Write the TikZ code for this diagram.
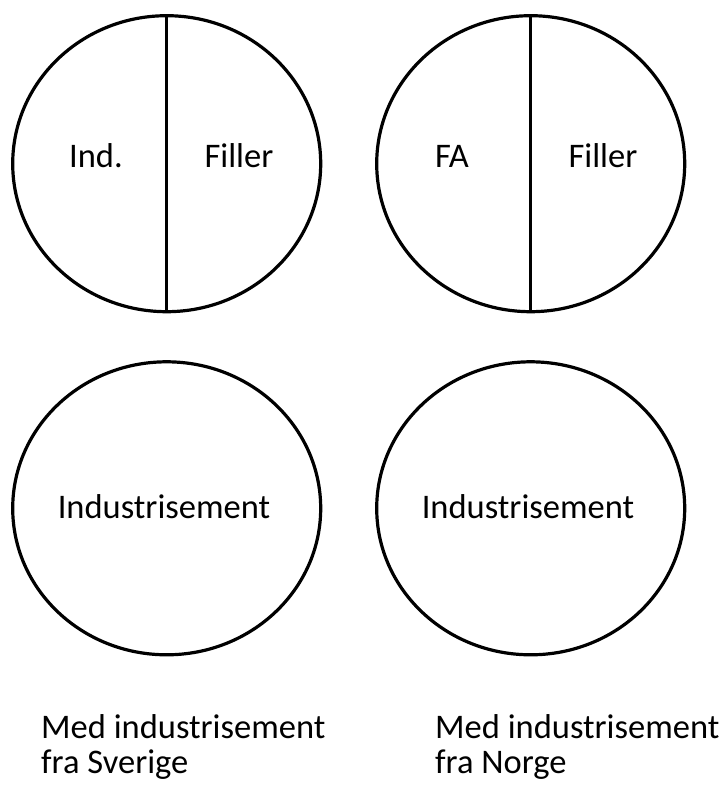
\documentclass[tikz,border=0pt]{standalone}
\usepackage{fontspec}
\setmainfont{Carlito}
\usetikzlibrary{shapes.geometric}
\begin{document}
\begin{tikzpicture}[x=1pt,y=1pt,
  disc/.style={ellipse, draw=black, line width=3.2pt, inner sep=0pt,
    minimum width=308pt, minimum height=#1},
  disc/.default=296pt,
  divider/.style={draw=black, line width=3.2pt},
  label/.style={font=\fontsize{34.5}{36}\selectfont, inner sep=0pt, anchor=base},
  caption/.style={font=\fontsize{34.5}{35.5}\selectfont, inner sep=0pt, align=left, anchor=base west}]
  \useasboundingbox (0,0) rectangle (727,-786);
  % split circles, top row
  \node[disc] (tl) at (166.7,-163.7) {};
  \node[disc] (tr) at (530.7,-163.7) {};
  \draw[divider] (tl.north) -- (tl.south);
  \draw[divider] (tr.north) -- (tr.south);
  \node[label] (ind) at (96,-168) {Ind.};
  \node[label] (fill1) at (239,-168) {Filler};
  \node[label] (fa) at (452,-168) {FA};
  \node[label] (fill2) at (603,-168) {Filler};
  % whole circles, bottom row
  \node[disc=293pt] (bl) at (166.7,-508.3) {};
  \node[disc=293pt] (br) at (530.7,-508.3) {};
  \node[label] (ind1) at (164,-518) {Industrisement};
  \node[label] (ind2) at (528,-518) {Industrisement};
  % captions (anchored on the baseline of their last line)
  \node[caption] (capl) at (41,-773.5) {Med industrisement\\fra Sverige};
  \node[caption] (capr) at (435,-773.5) {Med industrisement\\fra Norge};
\end{tikzpicture}
\end{document}
